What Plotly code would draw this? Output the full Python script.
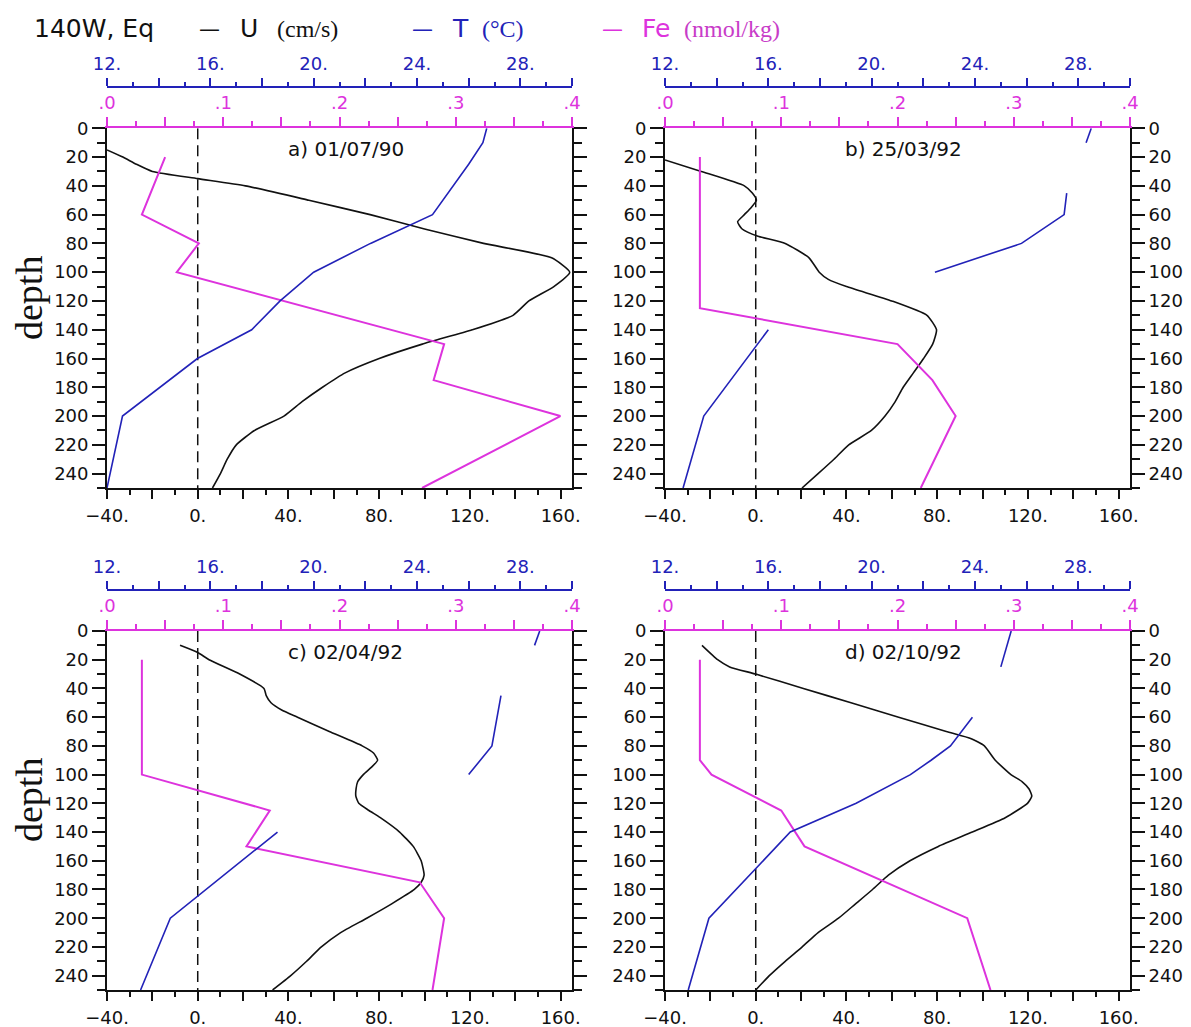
import plotly.graph_objects as go

FIG_W, FIG_H = 1191, 1027
PAGE_OFFSET = 8  # default body margin of the html page
BLUE = "#2222B8"
PINK = "#DD33DD"
BLACK = "#111111"

# ---------------- data ----------------
# panel a) 01/07/90
DEPTH_U_A = [15, 20, 25, 30, 35, 40, 50, 60, 70, 80, 90, 100, 110, 120, 130, 140, 150, 160, 170, 180, 190, 200, 210, 220, 230, 240, 250]
U_A = [-40, -33, -27, -20, 0, 21, 49, 76, 100, 126, 156, 164, 157, 146, 139, 121, 99, 80, 65, 55, 46, 38, 25, 17, 13, 10, 6.5]
DEPTH_T_A = [0, 10, 25, 40, 60, 80, 100, 120, 140, 160, 200, 250]
T_A = [26.7, 26.55, 26.0, 25.4, 24.6, 22.2, 20.0, 18.7, 17.6, 15.5, 12.6, 12.0]
DEPTH_FE_A = [20, 60, 80, 100, 150, 175, 200, 250]
FE_A = [0.050, 0.030, 0.079, 0.060, 0.290, 0.281, 0.390, 0.271]

# panel b) 25/03/92
DEPTH_U_B = [22, 30, 40, 45, 50, 55, 60, 65, 70, 75, 80, 90, 100, 105, 110, 120, 130, 140, 150, 160, 170, 180, 190, 200, 210, 220, 230, 240, 250]
U_B = [-40, -24, -5, -1.5, 0.3, -2, -5, -8, -6, 1, 13, 23.5, 28, 32, 40, 60, 75.5, 79.7, 78, 74, 69.5, 65, 61.5, 57, 51, 41, 34.5, 27.5, 20.4]
DEPTH_T_B = [0, 10, 25, 45, 60, 80, 100, 120, 140, 200, 250]
T_B = [28.5, 28.3, None, 27.55, 27.45, 25.8, 22.45, None, 16.0, 13.5, 12.7]
DEPTH_FE_B = [20, 125, 150, 175, 200, 250]
FE_B = [0.030, 0.030, 0.200, 0.230, 0.250, 0.220]

# panel c) 02/04/92
DEPTH_U_C = [10, 15, 20, 30, 40, 45, 50, 55, 60, 70, 80, 85, 90, 95, 100, 105, 110, 115, 120, 125, 130, 140, 150, 160, 170, 175, 180, 190, 200, 210, 220, 230, 240, 250]
U_C = [-7.8, 0, 5, 18.5, 29.2, 30.2, 32.3, 37, 44, 58, 72.5, 77.5, 79.3, 76.5, 73, 70.5, 69.8, 69.7, 71, 75.5, 80.5, 89, 95, 98.5, 99.8, 98.5, 95.5, 85.5, 74.5, 63, 54.5, 48, 41, 33]
DEPTH_T_C = [0, 10, 25, 45, 80, 100, 120, 140, 200, 250]
T_C = [28.75, 28.55, None, 27.25, 26.9, 26.0, None, 18.6, 14.45, 13.3]
DEPTH_FE_C = [20, 100, 125, 150, 175, 200, 250]
FE_C = [0.030, 0.030, 0.140, 0.120, 0.269, 0.290, 0.280]

# panel d) 02/10/92
DEPTH_U_D = [10, 20, 25, 30, 40, 50, 60, 70, 75, 80, 90, 100, 105, 110, 115, 120, 130, 140, 150, 160, 170, 180, 190, 200, 210, 220, 230, 240, 250]
U_D = [-23.7, -16.8, -11.5, 0, 21, 42, 63, 84, 95, 100.8, 105.6, 112.5, 117.5, 120.5, 121.7, 119.8, 110, 95.5, 80.5, 68, 58.5, 51.5, 44, 36.5, 27.5, 20.5, 13, 6, 0]
DEPTH_T_D = [0, 25, 40, 60, 80, 90, 100, 120, 140, 200, 250]
T_D = [25.4, 25.0, None, 23.9, 23.05, 22.3, 21.5, 19.4, 16.85, 13.7, 12.9]
DEPTH_FE_D = [20, 90, 95, 100, 125, 150, 200, 250]
FE_D = [0.030, 0.030, 0.035, 0.040, 0.100, 0.120, 0.260, 0.280]

PANEL_TITLES = ["a) 01/07/90", "b) 25/03/92", "c) 02/04/92", "d) 02/10/92"]

# axes scales / ticks
U_RANGE = [-40, 165]
FE_RANGE = [0, 0.4]
T_RANGE = [12, 30]
DEPTH_RANGE = [250, 0]
ZERO_U = 0

U_TICKS = list(range(-40, 161, 20))
U_LABELS = [(("\u2212" if v < 0 else "") + f"{abs(v)}.") if v % 40 == 0 else "" for v in U_TICKS]
U_MINOR = list(range(-30, 165, 20))
FE_TICKS = [0.0, 0.05, 0.1, 0.15, 0.2, 0.25, 0.3, 0.35, 0.4]
FE_LABELS = [".0", "", ".1", "", ".2", "", ".3", "", ".4"]
FE_MINOR = [0.025, 0.075, 0.125, 0.175, 0.225, 0.275, 0.325, 0.375]
T_TICKS = list(range(12, 31, 2))
T_LABELS = [f"{v}." if (v - 12) % 4 == 0 else "" for v in T_TICKS]
T_MINOR = list(range(13, 30, 2))
DEPTH_TICKS = list(range(0, 241, 20))
DEPTH_LABELS = [str(v) for v in DEPTH_TICKS]
DEPTH_MINOR = list(range(10, 251, 20))

panels = [
    (DEPTH_U_A, U_A, DEPTH_T_A, T_A, DEPTH_FE_A, FE_A),
    (DEPTH_U_B, U_B, DEPTH_T_B, T_B, DEPTH_FE_B, FE_B),
    (DEPTH_U_C, U_C, DEPTH_T_C, T_C, DEPTH_FE_C, FE_C),
    (DEPTH_U_D, U_D, DEPTH_T_D, T_D, DEPTH_FE_D, FE_D),
]

# layout geometry (screen pixels of the target picture)
PX_X = [(107, 572), (665, 1130), (107, 572), (665, 1130)]
PX_Y = [(128.3, 488), (128.3, 488), (631, 990), (631, 990)]
T_LINE_PX = [87, 87, 590, 590]
RIGHT_LABELS = [False, True, False, True]

TICK_FONT = dict(family="DejaVu Sans", size=18, color=BLACK)


def px2x(p):
    return (p - PAGE_OFFSET) / FIG_W


def px2y(p):
    return 1 - (p - PAGE_OFFSET) / FIG_H


fig = go.Figure()
layout = dict(
    width=FIG_W, height=FIG_H,
    margin=dict(l=0, r=0, t=0, b=0, autoexpand=False),
    paper_bgcolor="white", plot_bgcolor="white",
    showlegend=False,
    annotations=[],
)

for p, (du, u, dt, t, dfe, fe) in enumerate(panels):
    xu, xf, xt = 3 * p + 1, 3 * p + 2, 3 * p + 3
    yl, yr = 2 * p + 1, 2 * p + 2
    xdom = [px2x(PX_X[p][0]), px2x(PX_X[p][1])]
    ydom = [px2y(PX_Y[p][1]), px2y(PX_Y[p][0])]
    xu_n = f"x{xu}" if xu > 1 else "x"
    yl_n = f"y{yl}" if yl > 1 else "y"
    yr_n = f"y{yr}"
    xu_key = f"xaxis{xu}" if xu > 1 else "xaxis"
    yl_key = f"yaxis{yl}" if yl > 1 else "yaxis"

    layout[xu_key] = dict(
        domain=xdom, anchor=yl_n, range=U_RANGE, side="bottom",
        tickmode="array", tickvals=U_TICKS, ticktext=U_LABELS,
        ticks="outside", ticklen=9, tickwidth=1.5, tickcolor=BLACK,
        minor=dict(tickmode="array", tickvals=U_MINOR, ticks="outside", ticklen=5, tickwidth=1.5, tickcolor=BLACK),
        showline=True, linecolor=BLACK, linewidth=1.8, mirror=False,
        showgrid=False, zeroline=False, tickfont=TICK_FONT, ticklabelstandoff=1,
        automargin=False,
    )
    layout[f"xaxis{xf}"] = dict(
        domain=xdom, anchor=yl_n, overlaying=xu_n, range=FE_RANGE, side="top",
        tickmode="array", tickvals=FE_TICKS, ticktext=FE_LABELS,
        ticks="outside", ticklen=9, tickwidth=1.5, tickcolor=PINK,
        minor=dict(tickmode="array", tickvals=FE_MINOR, ticks="outside", ticklen=5, tickwidth=1.5, tickcolor=PINK),
        showline=True, linecolor=PINK, linewidth=1.8,
        showgrid=False, zeroline=False, tickfont=dict(family="DejaVu Sans", size=18, color=PINK),
        ticklabelstandoff=1, automargin=False,
    )
    layout[f"xaxis{xt}"] = dict(
        domain=xdom, anchor="free", position=px2y(T_LINE_PX[p]), overlaying=xu_n, range=T_RANGE, side="top",
        tickmode="array", tickvals=T_TICKS, ticktext=T_LABELS,
        ticks="outside", ticklen=8, tickwidth=1.5, tickcolor=BLUE,
        minor=dict(tickmode="array", tickvals=T_MINOR, ticks="outside", ticklen=4, tickwidth=1.5, tickcolor=BLUE),
        showline=True, linecolor=BLUE, linewidth=1.8,
        showgrid=False, zeroline=False, tickfont=dict(family="DejaVu Sans", size=18, color=BLUE),
        ticklabelstandoff=1, automargin=False,
    )
    layout[yl_key] = dict(
        domain=ydom, anchor=xu_n, range=DEPTH_RANGE,
        tickmode="array", tickvals=DEPTH_TICKS, ticktext=DEPTH_LABELS,
        ticks="outside", ticklen=13, tickwidth=1.5, tickcolor=BLACK,
        minor=dict(tickmode="array", tickvals=DEPTH_MINOR, ticks="outside", ticklen=8, tickwidth=1.5, tickcolor=BLACK),
        showline=True, linecolor=BLACK, linewidth=1.8, mirror="ticks",
        showgrid=False, zeroline=False, tickfont=TICK_FONT, ticklabelstandoff=0,
        automargin=False,
    )
    zero_y = yl_n
    if RIGHT_LABELS[p]:
        layout[f"yaxis{yr}"] = dict(
            domain=ydom, anchor=xu_n, overlaying=yl_n, side="right", range=DEPTH_RANGE,
            tickmode="array", tickvals=DEPTH_TICKS, ticktext=DEPTH_LABELS,
            ticks="outside", ticklen=13, tickwidth=1.5, tickcolor=BLACK,
            minor=dict(tickmode="array", tickvals=DEPTH_MINOR, ticks="outside", ticklen=8, tickwidth=1.5, tickcolor=BLACK),
            showline=True, linecolor=BLACK, linewidth=1.8,
            showgrid=False, zeroline=False, tickfont=TICK_FONT, ticklabelstandoff=0,
            automargin=False,
        )
        zero_y = yr_n

    # zero line of U
    fig.add_trace(go.Scatter(x=[ZERO_U, ZERO_U], y=[DEPTH_RANGE[1], DEPTH_RANGE[0]], mode="lines",
                             line=dict(color=BLACK, width=1.5, dash="11px,6px"),
                             xaxis=xu_n, yaxis=zero_y, hoverinfo="skip"))
    # U
    fig.add_trace(go.Scatter(x=u, y=du, mode="lines", line=dict(color=BLACK, width=1.6, shape="spline", smoothing=0.5),
                             xaxis=xu_n, yaxis=yl_n, name="U"))
    # Fe
    fig.add_trace(go.Scatter(x=fe, y=dfe, mode="lines", line=dict(color=PINK, width=2),
                             xaxis=f"x{xf}", yaxis=yl_n, name="Fe"))
    # T
    fig.add_trace(go.Scatter(x=t, y=dt, mode="lines", line=dict(color=BLUE, width=1.6),
                             xaxis=f"x{xt}", yaxis=yl_n, name="T", connectgaps=False))

    layout["annotations"].append(dict(
        text=PANEL_TITLES[p], xref=f"{xu_n} domain", yref=f"{yl_n} domain",
        x=0.513, y=1 - 21 / 360, xanchor="center", yanchor="middle", showarrow=False,
        font=dict(family="DejaVu Sans", size=20, color=BLACK)))

# "depth" labels
for cy in (298, 800):
    layout["annotations"].append(dict(
        text="depth", xref="paper", yref="paper", x=px2x(29), y=px2y(cy),
        xanchor="center", yanchor="middle", textangle=-90, showarrow=False,
        font=dict(family="Liberation Serif", size=38, color=BLACK)))

# header
TITLE_Y = px2y(29)
header = [
    ("140W, Eq", 32, "DejaVu Sans", 25, BLACK),
    ("\u2014", 197, "DejaVu Sans", 21, BLACK),
    ("U", 238, "DejaVu Sans", 25, BLACK),
    ("(cm/s)", 275, "Liberation Serif", 24, BLACK),
    ("\u2014", 410, "DejaVu Sans", 21, BLUE),
    ("T", 450, "DejaVu Sans", 25, BLUE),
    ("(\u00b0C)", 480, "Liberation Serif", 24, BLUE),
    ("\u2014", 600, "DejaVu Sans", 21, PINK),
    ("Fe", 640, "DejaVu Sans", 25, PINK),
    ("(nmol/kg)", 682, "Liberation Serif", 24, "#C83CC8"),
]
for txt, x0, fam, sz, col in header:
    layout["annotations"].append(dict(
        text=txt, xref="paper", yref="paper", x=px2x(x0), y=TITLE_Y,
        xanchor="left", yanchor="middle", showarrow=False,
        font=dict(family=fam, size=sz, color=col)))

fig.update_layout(**layout)
fig.write_html("out.html")
